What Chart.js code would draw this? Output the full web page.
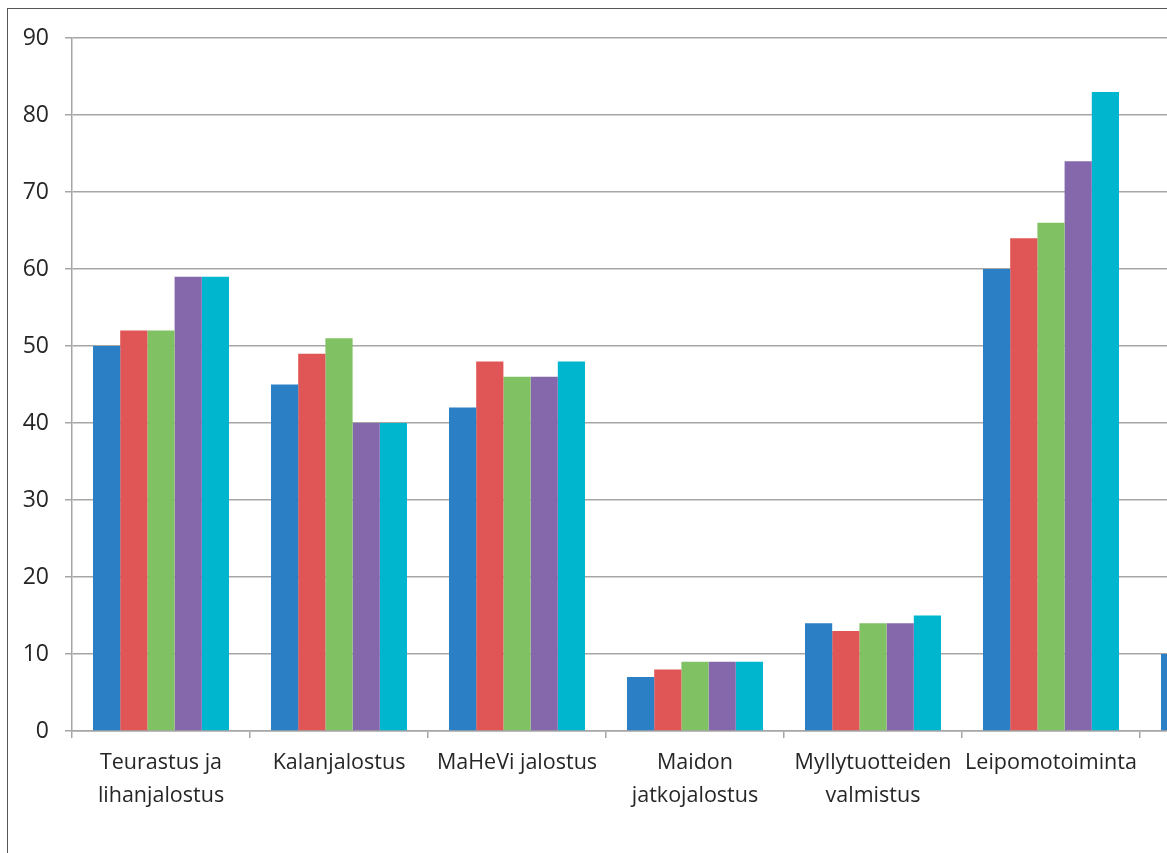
<!DOCTYPE html>
<html>
<head>
<meta charset="utf-8">
<script src="https://cdn.jsdelivr.net/npm/chart.js@4"></script>
<style>
  html, body { margin: 0; padding: 0; overflow: hidden; background: #fff; }
  #box { position: absolute; left: 7px; top: 8px; width: 1340px; height: 900px;
         border-left: 1.5px solid #555; border-top: 1.5px solid #555; }
  #wrap { position: absolute; left: 0; top: 0; width: 1330px; height: 853px; }
</style>
</head>
<body>
<div id="box"></div>
<div id="wrap"><canvas id="chart"></canvas></div>
<script>
const categories = [
  ["Teurastus ja", "lihanjalostus"],
  "Kalanjalostus",
  "MaHeVi jalostus",
  ["Maidon", "jatkojalostus"],
  ["Myllytuotteiden", "valmistus"],
  "Leipomotoiminta",
  ""
];

// five series per category (7th category is cut off at the right edge)
const series1 = [50, 45, 42, 7, 14, 60, 10];
const series2 = [52, 49, 48, 8, 13, 64, null];
const series3 = [52, 51, 46, 9, 14, 66, null];
const series4 = [59, 40, 46, 9, 14, 74, null];
const series5 = [59, 40, 48, 9, 15, 83, null];

const colors = ["#2B7FC5", "#E05656", "#80C263", "#8567AC", "#00B6CF"];
const yTicks = [0, 10, 20, 30, 40, 50, 60, 70, 80, 90];

const gridColor = "#A6A6A6";
const xFont = { family: "'Open Sans', sans-serif", size: 21.5, lineHeight: 1.5 };
const yFont = { family: "'Open Sans', sans-serif", size: 23 };

const ctx = document.getElementById("chart").getContext("2d");

new Chart(ctx, {
  type: "bar",
  data: {
    labels: categories,
    datasets: [series1, series2, series3, series4, series5].map((d, i) => ({
      label: "Sarja " + (i + 1),
      data: d,
      backgroundColor: colors[i],
      borderWidth: 0,
      categoryPercentage: 0.764,
      barPercentage: 1
    }))
  },
  options: {
    responsive: true,
    maintainAspectRatio: false,
    animation: false,
    layout: { padding: { top: 38, right: 12, left: 0, bottom: 0 } },
    plugins: { legend: { display: false }, tooltip: { enabled: false } },
    scales: {
      x: {
        grid: { offset: true, drawOnChartArea: false, drawTicks: true, tickLength: 7, color: gridColor, lineWidth: 1.5 },
        border: { color: gridColor, width: 1.5 },
        ticks: { font: xFont, color: "#262626", padding: 9, maxRotation: 0, autoSkip: false },
        afterFit: (scale) => { scale.height = 853 - 731; }
      },
      y: {
        min: 0,
        max: yTicks[yTicks.length - 1],
        afterBuildTicks: (scale) => { scale.ticks = yTicks.map((v) => ({ value: v })); },
        grid: { color: gridColor, lineWidth: 1.5, tickLength: 7 },
        border: { color: gridColor, width: 1.5 },
        ticks: { font: yFont, color: "#262626", padding: 16 },
        afterFit: (scale) => { scale.width = 72; }
      }
    }
  }
});
</script>
</body>
</html>
